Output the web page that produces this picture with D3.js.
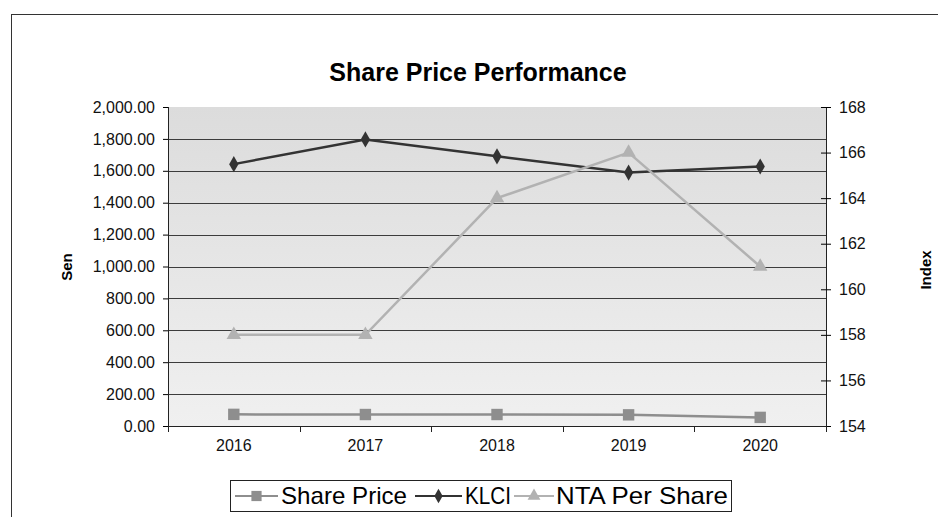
<!DOCTYPE html>
<html>
<head>
<meta charset="utf-8">
<script src="https://cdn.jsdelivr.net/npm/d3@7"></script>
<style>
  body { margin: 0; background: #fff; }
  svg { display: block; font-family: "Liberation Sans", Arial, sans-serif; }
</style>
</head>
<body>
<div id="chart"></div>
<script>
"use strict";

// data
var years = ["2016", "2017", "2018", "2019", "2020"];
var sharePrice = [73, 72, 72, 70, 54];          // left axis (Sen)
var klci = [1641.73, 1796.81, 1690.58, 1588.76, 1627.21]; // left axis
var ntaPerShare = [158, 158, 164, 166, 161];    // right axis (Index)
var leftTicks = [0, 200, 400, 600, 800, 1000, 1200, 1400, 1600, 1800, 2000];
var rightTicks = [154, 156, 158, 160, 162, 164, 166, 168];

var W = 938, H = 517;
var margin = {top: 107, right: 112, bottom: 91, left: 168},
    width = W - margin.left - margin.right,
    height = H - margin.top - margin.bottom;

var svg = d3.select("#chart").append("svg")
    .attr("width", W)
    .attr("height", H);

// outer chart border
svg.append("rect")
    .attr("x", 11.5).attr("y", 14.5)
    .attr("width", W).attr("height", H)
    .attr("fill", "none").attr("stroke", "#333");

svg.append("text")
    .attr("x", 478).attr("y", 81)
    .attr("text-anchor", "middle")
    .style("font-size", "25px").style("font-weight", "bold")
    .text("Share Price Performance");

var defs = svg.append("defs");
var grad = defs.append("linearGradient").attr("id", "bg")
    .attr("x1", 0).attr("y1", 0).attr("x2", 0).attr("y2", 1);
grad.append("stop").attr("offset", "0%").attr("stop-color", "#dcdcdc");
grad.append("stop").attr("offset", "100%").attr("stop-color", "#f0f0f0");

var g = svg.append("g")
    .attr("transform", "translate(" + margin.left + "," + margin.top + ")");

var x = d3.scaleBand().domain(years).range([0, width]);
var yL = d3.scaleLinear().domain([0, 2000]).range([height, 0]);
var yR = d3.scaleLinear().domain([154, 168]).range([height, 0]);

g.append("rect")
    .attr("width", width).attr("height", height)
    .attr("fill", "url(#bg)");

// gridlines
g.selectAll(".grid")
    .data(leftTicks.slice(1, -1))
  .enter().append("line")
    .attr("x1", 0).attr("x2", width)
    .attr("y1", function(d) { return Math.round(yL(d)) + 0.5; })
    .attr("y2", function(d) { return Math.round(yL(d)) + 0.5; })
    .attr("stroke", "#3c3c3c").attr("stroke-width", 1);

// left axis
var fmt = d3.format(",.2f");
var left = g.append("g")
    .call(d3.axisLeft(yL).tickValues(leftTicks).tickFormat(fmt).tickSize(5).tickPadding(8));
left.select(".domain").attr("stroke", "#222").attr("d", "M0.5," + height + "V0");
left.selectAll(".tick text").style("font-size", "16px").attr("fill", "#111");

// right axis
var right = g.append("g")
    .attr("transform", "translate(" + width + ",0)")
    .call(d3.axisRight(yR).tickValues(rightTicks).tickSize(5).tickPadding(8));
right.select(".domain").attr("stroke", "#222").attr("d", "M0.5," + height + "V0");
right.selectAll(".tick line").attr("x1", -5);
right.selectAll(".tick text").style("font-size", "16px").attr("fill", "#111");

// bottom axis with ticks at category boundaries
var bottom = g.append("g")
    .attr("transform", "translate(0," + height + ")")
    .call(d3.axisBottom(x).tickSize(0).tickPadding(14));
bottom.select(".domain").attr("stroke", "#222").attr("d", "M0,0.5H" + width);
bottom.selectAll(".tick text").style("font-size", "16px").attr("fill", "#111");
bottom.selectAll(".bound")
    .data(d3.range(years.length + 1))
  .enter().append("line")
    .attr("x1", function(i) { return Math.round(i * x.step()) + 0.5; })
    .attr("x2", function(i) { return Math.round(i * x.step()) + 0.5; })
    .attr("y1", 0).attr("y2", 6)
    .attr("stroke", "#222");

// axis titles
svg.append("text")
    .attr("transform", "translate(72,267) rotate(-90)")
    .attr("text-anchor", "middle")
    .style("font-size", "15px").style("font-weight", "bold")
    .text("Sen");
svg.append("text")
    .attr("transform", "translate(931,270) rotate(-90)")
    .attr("text-anchor", "middle")
    .style("font-size", "15px").style("font-weight", "bold")
    .text("Index");

var cx = function(i) { return x(years[i]) + x.bandwidth() / 2; };

var series = [
  {name: "Share Price", values: sharePrice, y: yL, color: "#8e8e8e", symbol: d3.symbolSquare, size: 130, width: 2.5},
  {name: "KLCI", values: klci, y: yL, color: "#333333", symbol: d3.symbolDiamond, size: 75, width: 2.5},
  {name: "NTA Per Share", values: ntaPerShare, y: yR, color: "#b2b2b2", symbol: d3.symbolTriangle, size: 90, width: 2.5}
];

series.forEach(function(s) {
  var line = d3.line()
      .x(function(d, i) { return cx(i); })
      .y(function(d) { return s.y(d); });
  g.append("path")
      .datum(s.values)
      .attr("d", line)
      .attr("fill", "none")
      .attr("stroke", s.color)
      .attr("stroke-width", s.width);
  g.selectAll(null)
      .data(s.values)
    .enter().append("path")
      .attr("d", d3.symbol().type(s.symbol).size(s.size))
      .attr("transform", function(d, i) { return "translate(" + cx(i) + "," + s.y(d) + ")"; })
      .attr("fill", s.color);
});

// legend
var legend = svg.append("g");
legend.append("rect")
    .attr("x", 230.5).attr("y", 480.5)
    .attr("width", 501).attr("height", 31)
    .attr("fill", "#fff").attr("stroke", "#222");

var items = [
  {s: series[0], x: 235, w: 43, tx: 281, tw: 126},
  {s: series[1], x: 415, w: 47, tx: 465, tw: 46},
  {s: series[2], x: 514, w: 40, tx: 556, tw: 172}
];
items.forEach(function(it) {
  legend.append("line")
      .attr("x1", it.x).attr("x2", it.x + it.w)
      .attr("y1", 496).attr("y2", 496)
      .attr("stroke", it.s.color).attr("stroke-width", 2);
  legend.append("path")
      .attr("d", d3.symbol().type(it.s.symbol).size(it.s.size * 0.8))
      .attr("transform", "translate(" + (it.x + it.w / 2) + ",496)")
      .attr("fill", it.s.color);
  legend.append("text")
      .attr("x", it.tx).attr("y", 504)
      .attr("textLength", it.tw)
      .attr("lengthAdjust", "spacingAndGlyphs")
      .style("font-size", "24px")
      .text(it.s.name);
});
</script>
</body>
</html>
